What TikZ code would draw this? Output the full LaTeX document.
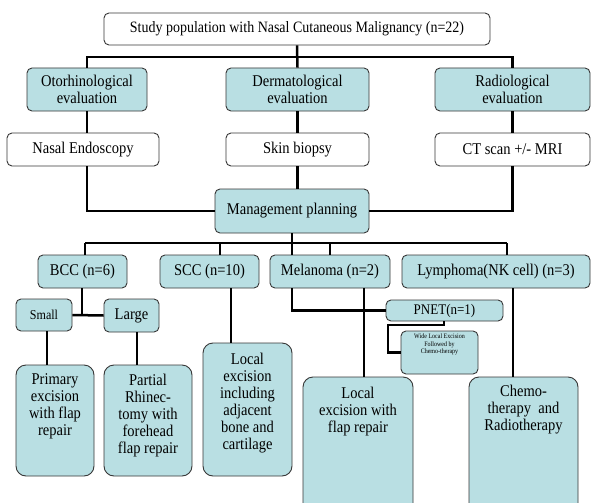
\documentclass[tikz,border=0pt]{standalone}
\usepackage{fontspec}
\setmainfont{Liberation Serif}[FakeStretch=0.885]
\definecolor{boxfill}{RGB}{185,223,227}
\definecolor{boxline}{RGB}{55,55,55}
\newcommand{\fsz}[2]{\fontsize{#1}{#2}\selectfont}
\tikzset{
  x=1pt, y=-1pt,
  conn/.style={line width=2.5pt, line join=miter},
  bx/.style={draw=boxline, line width=0.9pt, rounded corners=5pt, inner sep=0pt,
    font=\fsz{16.4}{17}, align=center},
  wbox/.style={bx, fill=white},
  cbox/.style={bx, fill=boxfill},
  tallbox/.style={cbox, rounded corners=10pt},
  toptext/.style={anchor=north, inner sep=0pt, align=center, font=\fsz{16.4}{17}},
}
\newcommand{\boxat}[7]{% style, name, left, top, right, bottom, text
  \node[#1, minimum width={#5-#3}, minimum height={#6-#4}] (#2) at ({(#3+#5)/2},{(#4+#6)/2}) {#7};}
\begin{document}
\begin{tikzpicture}
\clip (0,0) rectangle (594,503);
\fill[white] (0,0) rectangle (594,503);
% level 1
\boxat{wbox}{top}{104}{13}{490}{45}{\fsz{15.8}{17}Study population with Nasal Cutaneous Malignancy (n=22)}
% level 2
\boxat{cbox}{oto}{27}{68}{147}{111}{Otorhinological\\evaluation}
\boxat{cbox}{der}{226}{68}{369}{111}{Dermatological\\evaluation}
\boxat{cbox}{rad}{435}{68}{590}{111}{Radiological\\evaluation}
% level 3
\boxat{wbox}{nasal}{7}{133}{159}{166}{Nasal Endoscopy}
\boxat{wbox}{skin}{226}{133}{369}{166}{Skin biopsy}
\boxat{wbox}{ct}{435}{133}{590}{166}{CT scan +/- MRI}
% management
\boxat{cbox}{mgmt}{215}{189}{369}{233}{\raisebox{5pt}{Management planning}}
% level 4
\boxat{cbox}{bcc}{38}{255}{127}{288}{BCC (n=6)}
\boxat{cbox}{scc}{160}{255}{259}{288}{SCC (n=10)}
\boxat{cbox}{mel}{270}{255}{390}{288}{Melanoma (n=2)}
\boxat{cbox}{lym}{402}{255}{590}{288}{Lymphoma(NK cell) (n=3)}
% level 5
\boxat{cbox}{small}{16}{299}{72}{331}{\fsz{13.6}{15}Small}
\boxat{cbox}{large}{104}{299}{159}{332}{Large}
\boxat{cbox}{pnet}{386}{300}{503}{321}{\fsz{14.7}{15}PNET(n=1)}
\boxat{cbox}{wide}{401}{331}{478}{374}{}
\node[anchor=north, inner sep=0pt, align=center, font=\fsz{6.8}{7.6}] (widetext) at ([yshift=-3]wide.north) {Wide Local Excision\\Followed by\\Chemo-therapy};
% bottom boxes
\boxat{tallbox}{prim}{16}{365}{94}{476}{}
\boxat{tallbox}{part}{104}{365}{192}{476}{}
\boxat{tallbox}{locinc}{203}{343}{292}{476}{}
\boxat{tallbox}{locflap}{303}{377}{413}{530}{}
\boxat{tallbox}{chemo}{469}{377}{578}{530}{}
\node[toptext] (primtext) at ([yshift=-9]prim.north) {Primary\\excision\\with flap\\repair};
\node[toptext] (parttext) at ([yshift=-9]part.north) {Partial\\Rhinec-\\tomy with\\forehead\\flap repair};
\node[toptext] (locinctext) at ([yshift=-10]locinc.north) {Local\\excision\\including\\adjacent\\bone and\\cartilage};
\node[toptext] (locflaptext) at ([yshift=-10]locflap.north) {Local\\excision with\\flap repair};
\node[toptext] (chemotext) at ([yshift=-8]chemo.north) {Chemo-\\therapy\ \ and\\Radiotherapy};
% connectors
\coordinate (h1) at (297,57);
\draw[conn] (top.south) -- (der.north);
\draw[conn] (oto.north) |- (h1) -| (rad.north);
\draw[conn] (oto.south) -- (oto.south |- nasal.north);
\draw[conn] (der.south) -- (skin.north);
\draw[conn] (rad.south) -- (rad.south |- ct.north);
\draw[conn] (oto.south |- nasal.south) |- (mgmt.west);
\draw[conn] (skin.south) -- (skin.south |- mgmt.north);
\draw[conn] (rad.south |- ct.south) |- (mgmt.east);
% management to diagnoses
\coordinate (hbL) at (85,243);
\coordinate (hbR) at (507,243);
\coordinate (hbS) at (220,243);
\coordinate (hbM) at (330,243);
\draw[conn] (mgmt.south) -- (mgmt.south |- mel.north);
\draw[conn] (hbL) -- (hbR);
\draw[conn] (hbL) -- (hbL |- bcc.north);
\draw[conn] (hbS) -- (hbS |- scc.north);
\draw[conn] (hbM) -- (hbM |- mel.north);
\draw[conn] (hbR) -- (hbR |- lym.north);
% BCC
\coordinate (bccx) at (82,0);
\draw[conn] (bccx |- bcc.south) -- (bccx |- small.east);
\draw[conn] (small.east) -- (large.west);
\coordinate (smx) at (47,0);
\coordinate (lgx) at (137,0);
\draw[conn] (smx |- small.south) -- (smx |- prim.north);
\draw[conn] (lgx |- large.south) -- (lgx |- part.north);
% SCC
\coordinate (sccx) at (231,0);
\draw[conn] (sccx |- scc.south) -- (sccx |- locinc.north);
% Melanoma
\draw[conn] (mgmt.south |- mel.south) |- (pnet.west);
\coordinate (melx) at (364,0);
\draw[conn] (melx |- mel.south) -- (melx |- locflap.north);
\coordinate (p1) at (444,325);
\coordinate (p2) at (388,325);
\draw[conn] (p1 |- pnet.south) -- (p1) -- (p2) |- (wide.west);
% Lymphoma
\coordinate (lymx) at (513,0);
\draw[conn] (lymx |- lym.south) -- (lymx |- chemo.north);
\end{tikzpicture}
\end{document}
